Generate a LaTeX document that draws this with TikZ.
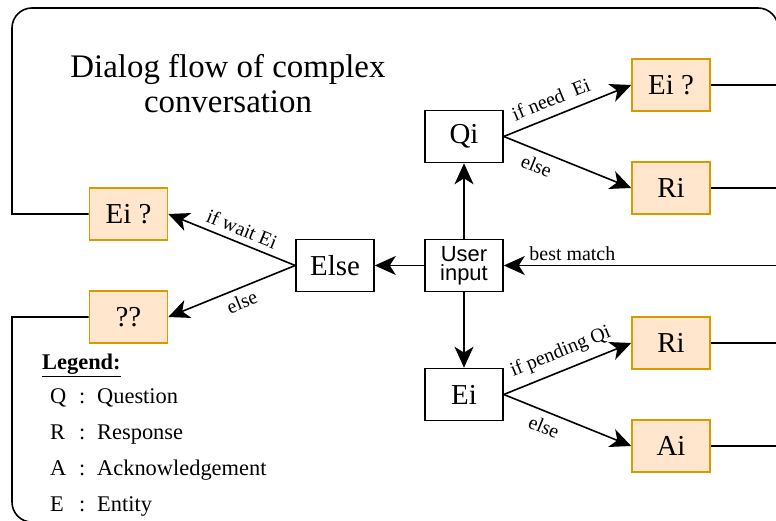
\documentclass[tikz,border=0pt]{standalone}
\usepackage{fontspec}
\setmainfont{Liberation Serif}
\newfontfamily\boxsans{Liberation Sans}
\usetikzlibrary{positioning,arrows.meta}

\definecolor{askfill}{HTML}{FFE6CC}
\definecolor{askline}{HTML}{D79B00}

\tikzset{
  block/.style={draw, line width=1.6bp, minimum width=78bp, minimum height=52bp, inner sep=0pt, font=\fontsize{29}{29}\selectfont},
  reply/.style={block, draw=askline, fill=askfill},
  flow/.style={line width=1.6bp, -{Stealth[length=21bp,width=19bp,inset=6bp]}},
  wire/.style={line width=1.6bp},
  lbl/.style={font=\fontsize{20}{20}\selectfont, inner sep=2bp},
  legrow/.style={anchor=base west, inner sep=0pt, font=\fontsize{22.5}{22.5}\selectfont}
}

\begin{document}
\begin{tikzpicture}[x=1bp, y=1bp, node distance=129bp, on grid]
            \clip (-464,265.5) rectangle (312,-255.5);
            \coordinate (rim) at (314,0);
            \coordinate (nw) at (-452,257.5);
            \coordinate (se) at (314,-256.6);

            \node[block, font=\boxsans\fontsize{22}{19}\selectfont, align=center] (user) {User\\input};
            \node[block] (qi) [above=of user] {Qi};
            \node[block] (ei) [below=of user] {Ei};
            \node[block] (else) [left=of user] {Else};
            \node[reply] (ask_l) [above left=51.5bp and 206.5bp of else] {Ei ?};
            \node[reply] (unk) [below left=51.5bp and 206.5bp of else] {??};
            \node[reply] (ask_r) [above right=51.5bp and 207bp of qi] {Ei ?};
            \node[reply] (ri_q) [below right=51.5bp and 207bp of qi] {Ri};
            \node[reply] (ri_e) [above right=51.5bp and 207bp of ei] {Ri};
            \node[reply] (ai) [below right=51.5bp and 207bp of ei] {Ai};

            \node[font=\fontsize{33}{36}\selectfont, align=center, anchor=base] (title) at (-236,152.5) {Dialog flow of complex\\conversation};

            % legend
            \node[legrow, font=\fontsize{22.5}{22.5}\selectfont\bfseries] (legend) at (-422,-104.5) {\underline{Legend:}};
            \node[legrow] (leg_q) at (-414,-138.5) {\makebox[29bp][l]{Q}\makebox[18bp][l]{:}Question};
            \node[legrow] (leg_r) at (-414,-174.5) {\makebox[29bp][l]{R}\makebox[18bp][l]{:}Response};
            \node[legrow] (leg_a) at (-414,-210.5) {\makebox[29bp][l]{A}\makebox[18bp][l]{:}Acknowledgement};
            \node[legrow] (leg_e) at (-414,-246.5) {\makebox[29bp][l]{E}\makebox[18bp][l]{:}Entity};

            % outer loop
            \draw[wire] (ask_l.west) -- (ask_l.west -| nw) [rounded corners=20bp] -- (nw) -- (nw -| se) -- (se);
            \draw[wire] (unk.west) -- (unk.west -| nw) [rounded corners=20bp] -- (nw |- se) -- (se);
            \draw[wire] (ask_r) -- (ask_r -| rim);
            \draw[wire] (ri_q) -- (ri_q -| rim);
            \draw[wire] (ri_e) -- (ri_e -| rim);
            \draw[wire] (ai) -- (ai -| rim);

            \draw[flow] (user.east -| rim) -- node[lbl, above=2bp, pos=.75] {best match} (user);
            \draw[flow] (user) -- (qi);
            \draw[flow] (user) -- (ei);
            \draw[flow] (user) -- (else);
            \draw[flow] (qi.east) -- node[lbl, sloped, above=7bp, pos=.42] {if need~~Ei} (ask_r.west);
            \draw[flow] (qi.east) -- node[lbl, sloped, below=5bp, pos=.3] {else} (ri_q.west);
            \draw[flow] (ei.east) -- node[lbl, sloped, above=6bp, pos=.5] {if pending Qi} (ri_e.west);
            \draw[flow] (ei.east) -- node[lbl, sloped, below=5bp, pos=.36] {else} (ai.west);
            \draw[flow] (else.west) -- node[lbl, sloped, above=4bp, pos=.46] {if wait Ei} (ask_l.east);
            \draw[flow] (else.west) -- node[lbl, sloped, below=4bp, pos=.46] {else} (unk.east);
\end{tikzpicture}
\end{document}
